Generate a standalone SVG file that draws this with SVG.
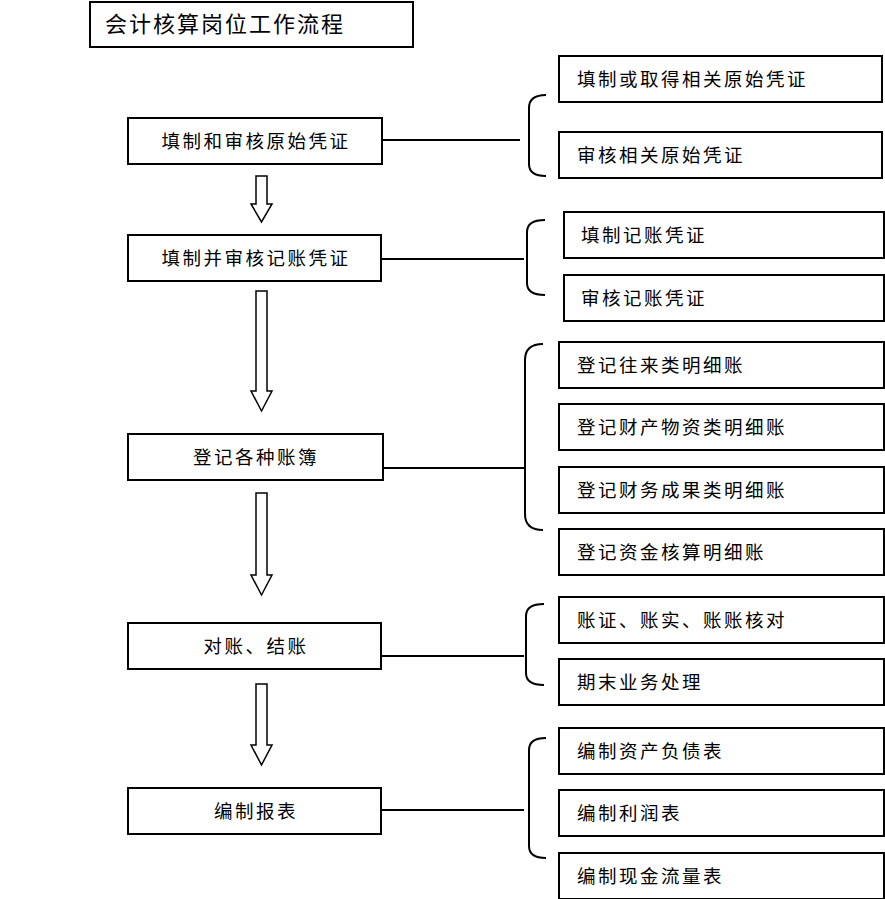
<svg xmlns="http://www.w3.org/2000/svg" width="885" height="899" viewBox="0 0 885 899">
<style>
rect{fill:#fff;stroke:#000;stroke-width:2}
text{font-family:"Noto Sans CJK SC",sans-serif;font-size:18.5px;letter-spacing:2.5px;fill:#000}
.c{text-anchor:middle}
.ln,.br{fill:none;stroke:#000;stroke-width:2}
.ar{fill:#fff;stroke:#000;stroke-width:1.5}
</style>
<g id="title"><rect x="90" y="2" width="323" height="45"/><text x="105" y="32" style="font-size:22px;letter-spacing:2px">会计核算岗位工作流程</text></g>
<g id="n1"><rect x="128" y="118" width="254" height="46"/><text class="c" x="256" y="148">填制和审核原始凭证</text></g>
<g id="n2"><rect x="128" y="235" width="253" height="46"/><text class="c" x="256" y="265">填制并审核记账凭证</text></g>
<g id="n3"><rect x="128" y="434" width="255" height="46"/><text class="c" x="256" y="464">登记各种账簿</text></g>
<g id="n4"><rect x="128" y="623" width="253" height="46"/><text class="c" x="256" y="653">对账、结账</text></g>
<g id="n5"><rect x="128" y="788" width="253" height="46"/><text class="c" x="256" y="818">编制报表</text></g>
<g id="r1"><rect x="559" y="56" width="323" height="46"/><text x="577" y="86">填制或取得相关原始凭证</text></g>
<g id="r2"><rect x="559" y="132" width="323" height="46"/><text x="577" y="162">审核相关原始凭证</text></g>
<g id="r3"><rect x="564" y="212" width="320" height="46"/><text x="581" y="242">填制记账凭证</text></g>
<g id="r4"><rect x="564" y="275" width="320" height="46"/><text x="581" y="305">审核记账凭证</text></g>
<g id="r5"><rect x="559" y="342" width="325" height="46"/><text x="577" y="372">登记往来类明细账</text></g>
<g id="r6"><rect x="559" y="404" width="325" height="46"/><text x="577" y="434">登记财产物资类明细账</text></g>
<g id="r7"><rect x="559" y="467" width="325" height="46"/><text x="577" y="497">登记财务成果类明细账</text></g>
<g id="r8"><rect x="559" y="529" width="325" height="46"/><text x="577" y="559">登记资金核算明细账</text></g>
<g id="r9"><rect x="559" y="597" width="325" height="46"/><text x="577" y="627">账证、账实、账账核对</text></g>
<g id="r10"><rect x="559" y="659" width="325" height="46"/><text x="577" y="689">期末业务处理</text></g>
<g id="r11"><rect x="559" y="728" width="325" height="46"/><text x="577" y="758">编制资产负债表</text></g>
<g id="r12"><rect x="559" y="790" width="325" height="46"/><text x="577" y="820">编制利润表</text></g>
<g id="r13"><rect x="559" y="853" width="325" height="46"/><text x="577" y="883">编制现金流量表</text></g>
<g id="connectors">
<path class="ln" d="M382 140H520M381 259H524M383 468H524M381 656H524M381 810H524"/>
<path class="br" d="M546 95Q529 95 529 108V164Q529 176 546 176"/>
<path class="br" d="M545 220Q527 220 527 232V283Q527 295 545 295"/>
<path class="br" d="M543 344Q525 344 525 360V514Q525 530 543 530"/>
<path class="br" d="M544 604Q526 604 526 616V673Q526 685 544 685"/>
<path class="br" d="M546 738Q529 738 529 750V846Q529 858 546 858"/>
<path class="ar" d="M256 176H267V204H272L261.5 222L251 204H256Z"/>
<path class="ar" d="M256 291H267V391H272L261.5 411L251 391H256Z"/>
<path class="ar" d="M256 493H267V575H272L261.5 595L251 575H256Z"/>
<path class="ar" d="M256 684H267V745H272L261.5 765L251 745H256Z"/>
</g>
</svg>
